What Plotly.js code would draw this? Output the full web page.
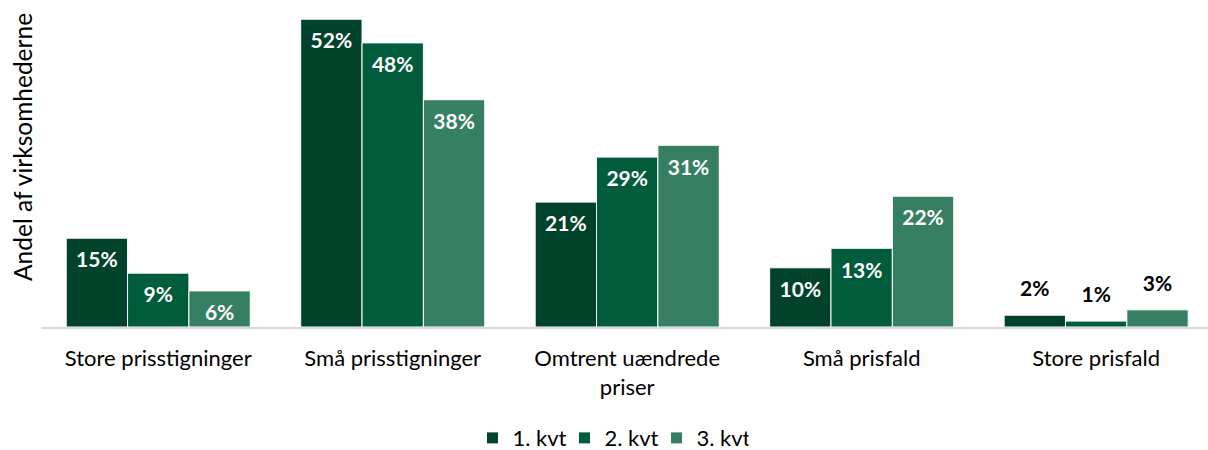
<!DOCTYPE html>
<html>
<head>
<meta charset="utf-8">
<script src="https://cdn.plot.ly/plotly-3.0.1.min.js"></script>
<style>html,body{margin:0;padding:0;background:#fff;}#chart{width:1208px;height:450px;}</style>
</head>
<body>
<div id="chart"></div>
<script>
var categories = ["Store prisstigninger", "Små prisstigninger", "Omtrent uændrede<br>priser", "Små prisfald", "Store prisfald"];
var seriesNames = ["1. kvt", "2. kvt", "3. kvt"];
var q1 = [15.0, 52.0, 21.1, 10.0, 2.0];
var q2 = [9.1, 48.0, 28.7, 13.3, 1.0];
var q3 = [6.1, 38.4, 30.7, 22.1, 2.9];
var q1Labels = ["15%", "52%", "21%", "10%", "2%"];
var q2Labels = ["9%", "48%", "29%", "13%", "1%"];
var q3Labels = ["6%", "38%", "31%", "22%", "3%"];

var colors = ["#00422A", "#005C3B", "#367F62"];
var values = [q1, q2, q3];
var labels = [q1Labels, q2Labels, q3Labels];
var FONT = "Lato, 'Open Sans', sans-serif";
var insideThreshold = 5;

var traces = [];
for (var i = 0; i < 3; i++) {
  traces.push({
    type: "bar",
    name: seriesNames[i],
    x: categories,
    y: values[i],
    marker: {color: colors[i], line: {color: "#ffffff", width: 1}},
    hoverinfo: "skip"
  });
}
for (var j = 0; j < 3; j++) {
  var pos = values[j].map(function (v) { return v > insideThreshold ? "bottom center" : "top center"; });
  var col = values[j].map(function (v) { return v > insideThreshold ? "#ffffff" : "#000000"; });
  traces.push({
    type: "scatter",
    mode: "markers+text",
    x: categories,
    y: values[j],
    text: labels[j],
    textposition: pos,
    textfont: {family: FONT, size: 21, color: col, weight: "bold"},
    marker: {size: 20, opacity: 0},
    showlegend: false,
    hoverinfo: "skip"
  });
}

var layout = {
  width: 1208,
  height: 450,
  margin: {l: 41, r: 0, t: 5, b: 123, autoexpand: false},
  paper_bgcolor: "#ffffff",
  plot_bgcolor: "#ffffff",
  barmode: "group",
  bargap: 0.215,
  bargroupgap: 0,
  scattermode: "group",
  scattergap: 0.215,
  font: {family: FONT, size: 22, color: "#000000"},
  xaxis: {
    type: "category",
    range: [-0.5, 4.477],
    automargin: false,
    showline: true,
    linecolor: "#D9D9D9",
    linewidth: 2,
    ticks: "",
    ticklabelstandoff: 11,
    tickfont: {family: FONT, size: 22, color: "#000000"},
    showgrid: false,
    zeroline: false,
    fixedrange: true
  },
  yaxis: {
    range: [0, 54.4],
    automargin: false,
    showgrid: false,
    showline: false,
    showticklabels: false,
    ticks: "",
    zeroline: false,
    fixedrange: true
  },
  showlegend: true,
  legend: {
    orientation: "h",
    x: 0.488,
    xanchor: "center",
    y: -0.345,
    yanchor: "middle",
    font: {family: FONT, size: 22, color: "#000000"},
    traceorder: "normal",
    itemwidth: 30,
    entrywidth: 47,
    entrywidthmode: "pixels",
    borderwidth: 0
  },
  annotations: [{
    text: "Andel af virksomhederne",
    xref: "paper",
    yref: "paper",
    x: -0.0163,
    y: 0.559,
    xanchor: "center",
    yanchor: "middle",
    textangle: -90,
    showarrow: false,
    font: {family: FONT, size: 24.5, color: "#000000"}
  }]
};

Plotly.newPlot("chart", traces, layout, {displayModeBar: false, staticPlot: true});
</script>
</body>
</html>
